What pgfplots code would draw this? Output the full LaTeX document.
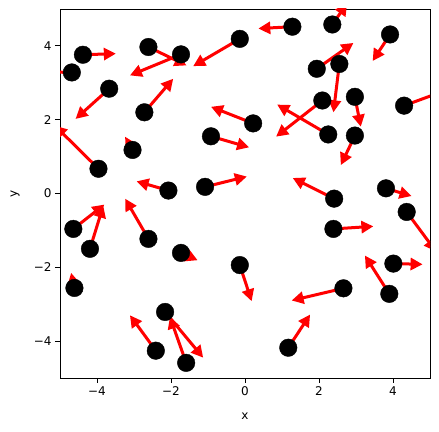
\documentclass[border=0pt]{standalone}
\usepackage{fontspec}
\setmainfont{DejaVu Sans}
\usepackage{pgfplots}
\usepackage{pgfplotstable}
\pgfplotsset{compat=1.18}
\usetikzlibrary{arrows.meta}
\pgfplotstableread{
x y u v
-4.68 3.28 -0.90 0.02
-4.38 3.76 0.89 0.03
-3.67 2.84 -0.91 -0.82
-2.61 3.97 1.03 -0.50
-1.73 3.77 -1.38 -0.57
-0.14 4.19 -1.26 -0.74
-2.72 2.20 0.78 0.91
-3.96 0.67 -1.18 1.17
-3.04 1.18 -0.20 0.36
-0.92 1.55 1.03 -0.30
0.22 1.90 -1.14 0.45
-2.07 0.08 -0.86 0.25
-1.08 0.18 1.13 0.28
1.28 4.52 -0.92 -0.05
2.36 4.58 0.40 0.57
3.92 4.31 -0.47 -0.72
1.94 3.38 0.99 0.70
2.55 3.51 -0.16 -1.31
2.09 2.52 -1.25 -0.98
2.97 2.62 0.16 -0.81
2.25 1.60 -1.38 0.81
2.97 1.57 -0.38 -0.80
4.30 2.38 1.19 0.44
3.81 0.14 0.69 -0.21
2.41 -0.14 -1.12 0.56
-4.64 -0.96 0.84 0.66
-4.19 -1.50 0.36 1.17
-2.61 -1.23 -0.63 1.09
-1.73 -1.61 0.45 -0.20
-0.14 -1.94 0.32 -0.98
-4.61 -2.56 -0.09 0.41
-2.16 -3.21 1.03 -1.24
-2.41 -4.26 -0.70 0.96
-1.59 -4.59 -0.44 1.25
2.39 -0.96 1.08 0.07
4.37 -0.50 0.79 -1.07
4.01 -1.90 0.79 -0.02
3.90 -2.72 -0.66 1.04
2.66 -2.57 -1.40 -0.33
1.17 -4.18 0.59 0.90
}\pts
\begin{document}
\begin{tikzpicture}
\begin{axis}[name=ax, scale only axis, width=370bp, height=369bp,
  xmin=-5, xmax=5, ymin=-5, ymax=5,
  xtick={-4,-2,0,2,4}, ytick={-4,-2,0,2,4},
  xticklabels={−4,−2,0,2,4}, yticklabels={−4,−2,0,2,4},
  tick align=outside, tick pos=left, major tick length=5bp,
  axis line style={line width=0.8bp},
  every tick/.style={black, line width=0.8bp},
  ticklabel style={font=\fontsize{12bp}{14bp}\selectfont},
  label style={font=\fontsize{12bp}{14bp}\selectfont},
  xlabel={x}, ylabel={y},
  xlabel style={at={(axis description cs:0.5,0)}, anchor=center, yshift=-38bp},
  ylabel style={at={([xshift=-45bp]axis description cs:0,0.5)}, anchor=center},
  clip=true]
\addplot[red, line width=3bp, no markers,
  quiver={u=\thisrow{u}, v=\thisrow{v},
    every arrow/.append style={-{Triangle[length=12bp,width=12bp]}}}]
  table[x=x, y=y] {\pts};
\addplot[only marks, mark=*, mark size=8.8bp, black] table[x=x, y=y] {\pts};
\end{axis}
\pgfresetboundingbox
\path ([xshift=-60bp,yshift=-54bp]ax.south west) rectangle ([xshift=9bp,yshift=9bp]ax.north east);
\end{tikzpicture}
\end{document}
